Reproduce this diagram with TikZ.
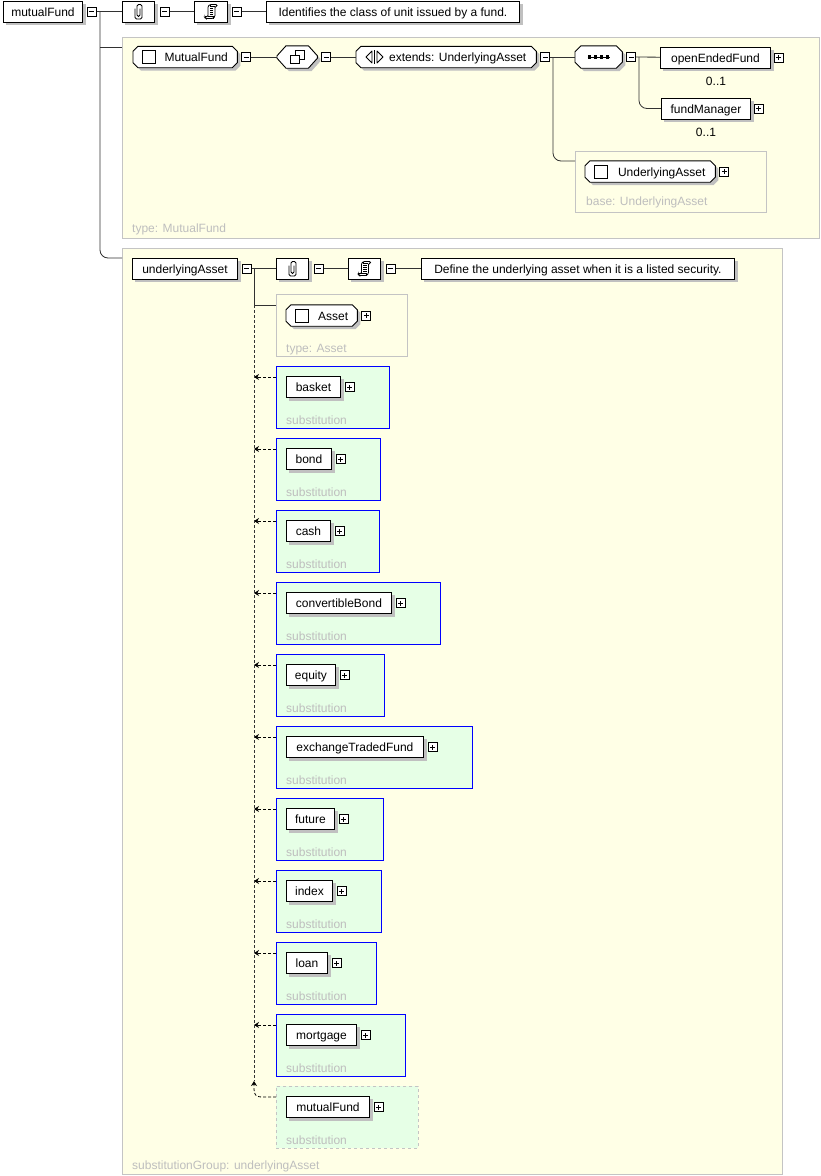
\documentclass[tikz,border=0pt]{standalone}
\usepackage{fontspec}
\setmainfont{Liberation Sans}
\usetikzlibrary{arrows.meta,calc,positioning}
\definecolor{panelY}{RGB}{255,255,230}
\definecolor{panelEdge}{RGB}{196,196,196}
\definecolor{subFill}{RGB}{230,255,230}
\definecolor{shadowC}{RGB}{192,192,192}
\definecolor{grayTxt}{RGB}{190,190,190}
\definecolor{lineC}{RGB}{50,50,50}
\definecolor{subBlue}{RGB}{0,0,255}
\pgfdeclarelayer{panels}
\pgfdeclarelayer{shadows}
\pgfdeclarelayer{shapes}
\pgfsetlayers{panels,shadows,shapes,main}
% octagon path around a named node: name, x chamfer, y chamfer, dx, dy, path options
\newcommand\octdraw[6]{%
  \path[#6]
    ($(#1.north west)+(#2+#4,#5)$) -- ($(#1.north east)+(-#2+#4,#5)$) -- ($(#1.north east)+(#4,#3+#5)$) --
    ($(#1.south east)+(#4,-#3+#5)$) -- ($(#1.south east)+(-#2+#4,#5)$) -- ($(#1.south west)+(#2+#4,#5)$) --
    ($(#1.south west)+(#4,-#3+#5)$) -- ($(#1.north west)+(#4,#3+#5)$) -- cycle;}
\newcommand\octo[3]{%
  \begin{pgfonlayer}{shadows}\octdraw{#1}{#2}{#3}{3}{3}{fill=shadowC}\end{pgfonlayer}%
  \begin{pgfonlayer}{shapes}\octdraw{#1}{#2}{#3}{0}{0}{draw=black, fill=white, line width=0.9pt}\end{pgfonlayer}}
\begin{document}
\begin{tikzpicture}[x=1pt,y=-1pt, font=\fontsize{12}{14}\selectfont,
  elem/.style={draw=black, fill=white, line width=0.9pt, minimum height=21pt, inner sep=0pt, anchor=west, text height=10pt, text depth=1pt},
  ctext/.style={inner sep=0pt, minimum height=21pt, anchor=west, text height=10pt, text depth=1pt},
  pmbox/.style={draw=black, fill=white, line width=0.8pt, minimum size=9pt, inner sep=0pt, anchor=west},
  minus/.style={pmbox, path picture={\draw[line width=0.8pt] ([xshift=2pt]path picture bounding box.west) -- ([xshift=-2pt]path picture bounding box.east);}},
  plus/.style={pmbox, path picture={\draw[line width=0.8pt] ([xshift=2pt]path picture bounding box.west) -- ([xshift=-2pt]path picture bounding box.east) ([yshift=2pt]path picture bounding box.south) -- ([yshift=-2pt]path picture bounding box.north);}},
  panel/.style={draw=panelEdge, fill=panelY, line width=0.8pt, anchor=north west, inner sep=0pt},
  subbox/.style={draw=subBlue, fill=subFill, line width=1pt, anchor=north west, minimum height=62pt, inner sep=0pt},
  subdash/.style={draw=panelEdge, fill=subFill, line width=0.8pt, dash pattern=on 3pt off 3pt, anchor=north west, minimum height=62pt, inner sep=0pt},
  conn/.style={draw=lineC, line width=0.8pt},
  subarrow/.style={draw=black, line width=0.8pt, dash pattern=on 3pt off 2pt, -{Stealth[length=5pt,width=6pt]}},
  glabel/.style={text=grayTxt, anchor=base west, inner sep=0pt},
  mult/.style={inner sep=0pt, anchor=center},
  icon/.style={line width=0.8pt, draw=black}
]
\useasboundingbox (0,0) rectangle (821,1176);

% ---------- panels ----------
\begin{pgfonlayer}{panels}
\fill[white] (0,0) rectangle (821,1176);
\node[panel, minimum width=697pt, minimum height=201pt] (panA) at (122,37) {};
\node[panel, minimum width=660pt, minimum height=926pt] (panB) at (122,248) {};
\node[panel, minimum width=191pt, minimum height=61pt] (subpan) at (575,151) {};
\node[panel, minimum width=131pt, minimum height=62pt] (apan) at (276,294) {};
\foreach \w [count=\i from 0] in {54,45,44,105,49,137,48,46,41,70}{
  \pgfmathsetmacro\t{366+72*\i}
  \pgfmathsetmacro\bw{\w+59}
  \node[subbox, minimum width=\bw pt] (sb\i) at (276,\t) {};
}
\node[subdash, minimum width=142pt] (sb10) at (276,1086) {};
\end{pgfonlayer}
\node[glabel] (panAlbl) at (132,232) {type: MutualFund};
\node[glabel] (panBlbl) at (132,1169) {substitutionGroup: underlyingAsset};
\node[glabel] (subpanlbl) at (586,205) {base: UnderlyingAsset};
\node[glabel] (apanlbl) at (286,352) {type: Asset};

% ---------- top row ----------
\node[elem, minimum width=79pt] (mf) at (3,11.5) {mutualFund};
\node[minus, right=4pt of mf] (mfm) {};
\node[elem, minimum width=32pt] (ann1) at (122,11.5) {};
\node[minus, right=5pt of ann1] (ann1m) {};
\node[elem, minimum width=33pt] (doc1) at (194,11.5) {};
\node[minus, right=4pt of doc1] (doc1m) {};
\node[elem, minimum width=253pt] (txt1) at (266,11.5) {Identifies the class of unit issued by a fund.};

% ---------- MutualFund type ----------
\node[ctext, minimum width=104pt] (mfc) at (133,57) {\hspace{22pt}MutualFund};
\octo{mfc}{5}{5}
\node[minus, right=4pt of mfc] (mfcm) {};
\node[ctext, minimum width=40pt, minimum height=22pt] (all) at (277,57) {};
\octo{all}{9}{10}
\node[minus, right=4pt of all] (allm) {};
\node[ctext, minimum width=180pt] (ext) at (356,57) {\hspace{23pt}extends: UnderlyingAsset};
\octo{ext}{5}{5}
\node[minus, right=4pt of ext] (extm) {};
\node[ctext, minimum width=47pt, minimum height=22pt] (seq) at (575,57) {};
\octo{seq}{6}{6}
\node[minus, right=4pt of seq] (seqm) {};
\node[elem, minimum width=110pt] (oef) at (660,57.5) {openEndedFund};
\node[plus, right=3pt of oef] (oefp) {};
\node[mult] (oefmul) at (716,81) {0..1};
\node[elem, minimum width=89pt] (fm) at (661,108.5) {fundManager};
\node[plus, right=3pt of fm] (fmp) {};
\node[mult] (fmmul) at (706,132) {0..1};
\node[ctext, minimum width=130pt] (uac) at (585,171.5) {\hspace{23pt}UnderlyingAsset};
\octo{uac}{5}{5}
\node[plus, right=4pt of uac] (uacp) {};

% ---------- underlyingAsset ----------
\node[elem, minimum width=105pt] (ua) at (132,268.5) {underlyingAsset};
\node[minus, right=4pt of ua] (uam) {};
\node[elem, minimum width=32pt] (ann2) at (276,268.5) {};
\node[minus, right=5pt of ann2] (ann2m) {};
\node[elem, minimum width=32pt] (doc2) at (348,268.5) {};
\node[minus, right=5pt of doc2] (doc2m) {};
\node[elem, minimum width=313pt] (txt2) at (421,268.5) {Define the underlying asset when it is a listed security.};
\node[ctext, minimum width=71pt] (asset) at (286,315.5) {\hspace{23pt}Asset};
\octo{asset}{5}{5}
\node[plus, right=4pt of asset] (assetp) {};

\coordinate (vl) at (254,0);
\coordinate (vend) at (254,1081);

% ---------- substitutions ----------
\foreach \nm/\w [count=\i from 0] in {basket/54,bond/45,cash/44,convertibleBond/105,equity/49,exchangeTradedFund/137,future/48,index/46,loan/41,mortgage/70}{
  \pgfmathsetmacro\t{366+72*\i}
  \node[elem, minimum width=\w pt] (se\i) at (286,\t+21) {\nm};
  \node[plus, right=4pt of se\i] (sp\i) {};
  \node[glabel] (sl\i) at (286,\t+58) {substitution};
  \coordinate (sa\i) at (276,\t+11);
  \draw[subarrow] (sa\i) -- (sa\i -| vl);
}
\node[elem, minimum width=83pt] (se10) at (286,1107) {mutualFund};
\node[plus, right=4pt of se10] (sp10) {};
\node[glabel] (sl10) at (286,1144) {substitution};
\coordinate (sa10) at (276,1097);
\draw[subarrow] (sa10) -- (263,1097) .. controls (256,1097) and (254,1095) .. (254,1089) -- (vend);

% ---------- shadows of element boxes ----------
\begin{pgfonlayer}{shadows}
\foreach \n in {mf,ann1,doc1,txt1,oef,fm,ua,ann2,doc2,txt2,se0,se1,se2,se3,se4,se5,se6,se7,se8,se9,se10}{
  \fill[shadowC] ($(\n.north west)+(3,3)$) rectangle ($(\n.south east)+(3,3)$);
}
\end{pgfonlayer}

% ---------- connectors ----------
\draw[conn] (mfm) -- (ann1);
\draw[conn] (ann1m) -- (doc1);
\draw[conn] (doc1m) -- (txt1);
\coordinate (b1) at (100,11.5);
\coordinate (panAin) at (122,47);
\coordinate (panBin) at (122,258);
\draw[conn] (b1 |- panAin) -- (panAin);
\draw[conn, rounded corners=8pt] (b1) |- (panBin);

\draw[conn] (mfcm) -- (all.west);
\draw[conn] (allm) -- (ext.west);
\draw[conn] (extm) -- (seq.west);
\coordinate (b2) at (553,57);
\coordinate (subpanin) at (575,161);
\draw[conn, rounded corners=8pt] (b2) |- (subpanin);
\draw[conn] (seqm) -- (oef);
\coordinate (b3) at (639,57);
\draw[conn, rounded corners=8pt] (b3) |- (fm.west);

\draw[conn] (uam) -- (ann2);
\draw[conn] (ann2m) -- (doc2);
\draw[conn] (doc2m) -- (txt2);
\coordinate (b4) at (254,268.5);
\coordinate (apanin) at (276,305);
\draw[conn] (b4) |- (apanin);
\draw[conn, dash pattern=on 3pt off 2pt] (apanin -| vl) -- (vend);

% ---------- icons ----------
\foreach \n in {ann1,ann2}{
  \begin{scope}[shift={(\n.center)}]
    \draw[icon, rounded corners=1.5pt] (1.5,-3) -- (1.5,5) -- (-1.5,5) -- (-1.5,-7) -- (3.5,-7) -- (3.5,7.5) -- (-3.5,7.5) -- (-3.5,-3);
  \end{scope}
}
\foreach \n in {doc1,doc2}{
  \begin{scope}[shift={(\n.center)}]
    \draw[icon, rounded corners=1pt] (-3,5) -- (-3,-5) -- (-1,-7) -- (6,-7) -- (6,-5) -- (4,-5) -- (4,5) -- (2,7) -- (-5,7) -- (-6,6) -- (-6,5) -- cycle;
    \draw[icon] (-3,5) -- (2,5) -- (2,7);
    \draw[icon] (-1,-7) -- (-1,-5) -- (4,-5);
    \draw[icon] (-1,-3) -- (2.5,-3) (-1,-1) -- (2.5,-1) (-1,1) -- (2.5,1) (-1,3) -- (2.5,3);
  \end{scope}
}
\foreach \n in {mfc,uac,asset}{
  \begin{scope}[shift={(\n.west)}]
    \draw[icon] (9,-6.5) rectangle (22,6.5);
  \end{scope}
}
\begin{scope}[shift={(ext.west)}]
  \draw[icon, line join=round] (10,0) -- (16,-6) -- (16,6) -- cycle;
  \draw[icon] (18.5,-7) -- (18.5,7);
  \draw[icon, line join=round] (27,0) -- (21,-6) -- (21,6) -- cycle;
\end{scope}
\begin{scope}[shift={(all.center)}]
  \draw[icon, fill=white] (-2,-7) rectangle (7,2);
  \draw[icon, fill=white] (-7,-2) rectangle (2,6);
\end{scope}
\begin{scope}[shift={(seq.center)}]
  \draw[icon] (-11,0) -- (11,0);
  \foreach \dx in {-9,-3,3,9} \fill (\dx-1.7,-1.7) rectangle (\dx+1.7,1.7);
\end{scope}
\end{tikzpicture}
\end{document}
